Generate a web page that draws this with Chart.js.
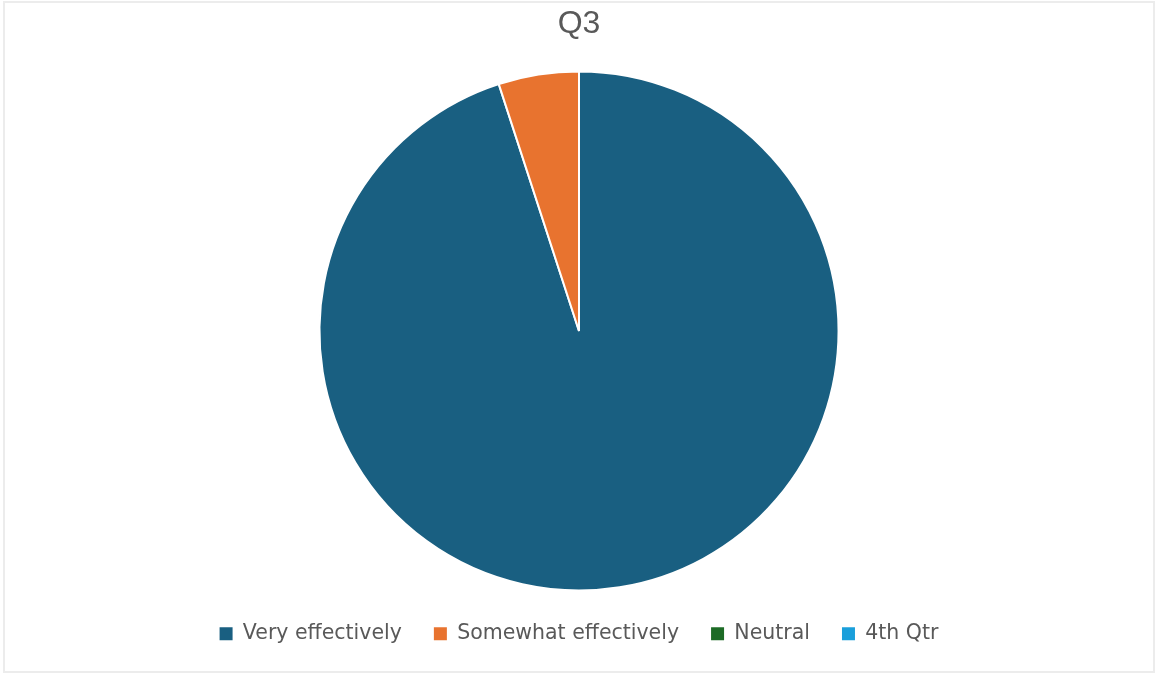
<!DOCTYPE html>
<html>
<head>
<meta charset="utf-8">
<title>Q3</title>
<script src="https://cdn.jsdelivr.net/npm/chart.js@4/dist/chart.umd.min.js"></script>
<style>
	html, body { margin: 0; padding: 0; background: #ffffff; }
	#frame { position: absolute; left: 3px; top: 1px; width: 1148px; height: 668px; border: 2px solid #ececec; }
	#wrap { position: absolute; left: 0; top: 0; width: 1155px; height: 673px; }
</style>
</head>
<body>
<div id="frame"></div>
<div id="wrap"><canvas id="pieChart" width="1155" height="673"></canvas></div>
<script>
// Chart data
const categories = ["Very effectively", "Somewhat effectively", "Neutral", "4th Qtr"];
const responses = [95, 5, 0, 0];
const sliceColors = ["#195f81", "#e8732f", "#1d6b26", "#1a9fdb"];
const chartTitle = "Q3";

const ctx = document.getElementById("pieChart").getContext("2d");
const pieChart = new Chart(ctx, {
	type: "pie",
	data: {
		labels: categories,
		datasets: [
			{
				data: responses,
				backgroundColor: sliceColors,
				borderColor: "#ffffff",
				borderWidth: 2,
			},
		],
	},
	options: {
		responsive: false,
		animation: false,
		events: [],
		layout: {
			padding: { left: 3, right: 0, top: 0, bottom: 19 },
		},
		plugins: {
			tooltip: { enabled: false },
			title: {
				display: true,
				text: chartTitle,
				color: "#595959",
				font: { family: "'Liberation Sans', Arial, sans-serif", size: 32, weight: "normal" },
				padding: { top: 5, bottom: 27 },
			},
			legend: {
				position: "bottom",
				labels: {
					color: "#595959",
					font: { family: "'DejaVu Sans', sans-serif", size: 20.5 },
					boxWidth: 13,
					boxHeight: 13,
					padding: 32,
					generateLabels: (chart) => {
						const ds = chart.data.datasets[0];
						return chart.data.labels.map((label, i) => ({
							text: label,
							fillStyle: ds.backgroundColor[i],
							strokeStyle: ds.backgroundColor[i],
							fontColor: "#595959",
							lineWidth: 0,
							hidden: false,
							index: i,
						}));
					},
				},
			},
		},
	},
});
</script>
</body>
</html>
